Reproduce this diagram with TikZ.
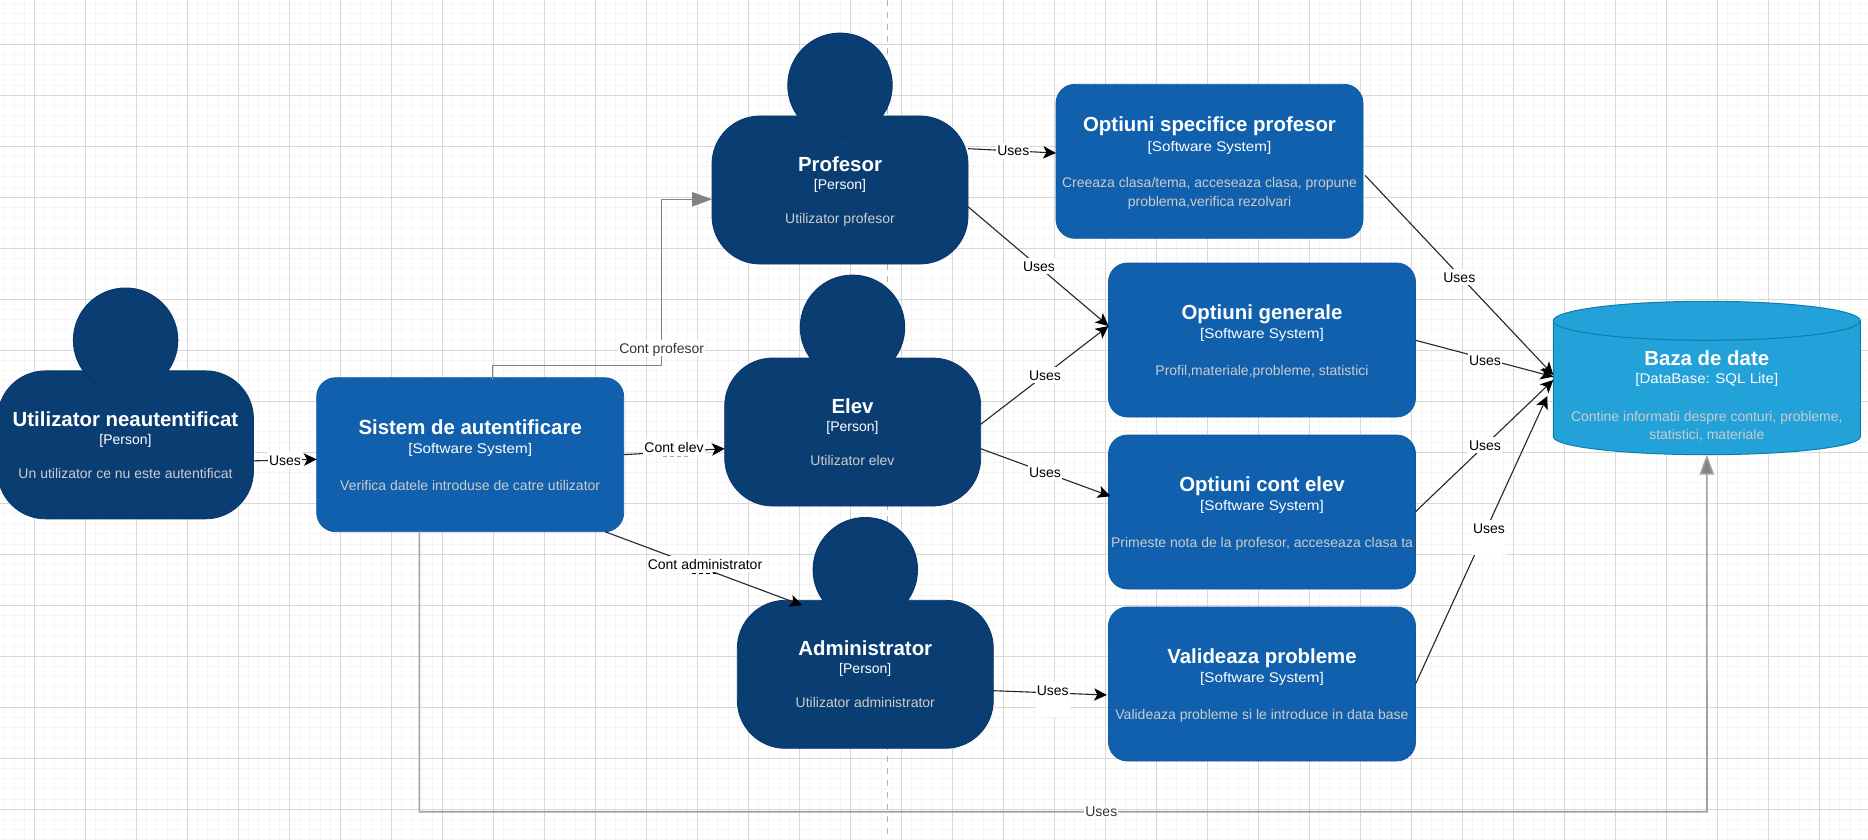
\documentclass[tikz,border=0pt]{standalone}
\usepackage{fontspec}
\setmainfont{Liberation Sans}
\newfontfamily\widerfont[FakeStretch=1.09]{Liberation Sans}
\newfontfamily\widefont[FakeStretch=1.075]{Liberation Sans}
\usetikzlibrary{arrows.meta,calc}
\definecolor{personfill}{HTML}{0A3E73}
\definecolor{personline}{HTML}{08376A}
\definecolor{boxfill}{HTML}{1060AD}
\definecolor{boxline}{HTML}{0E5AA3}
\definecolor{dbfill}{HTML}{23A2D9}
\definecolor{dbline}{HTML}{0E7DAD}
\definecolor{gridmajor}{HTML}{D8D8D8}
\definecolor{gridminor}{HTML}{F5F5F5}
\definecolor{grayline}{HTML}{828282}
\definecolor{desccol}{HTML}{CCCCCC}
\tikzset{
  body/.style={rectangle,rounded corners=24pt,fill=personfill,draw=personline,line width=.4pt,
    minimum width=128pt,minimum height=74pt,inner sep=0pt,outer sep=0pt},
  head/.style={circle,fill=personfill,draw=personline,line width=.5pt,
    minimum size=104.4*.5pt,inner sep=0pt,outer sep=0pt},
  sysbox/.style={rectangle,rounded corners=9.5pt,fill=boxfill,draw=boxline,line width=.4pt,
    minimum width=153.5pt,minimum height=77pt,inner sep=0pt,outer sep=0pt},
  dbarea/.style={rectangle,minimum width=153.5pt,minimum height=76.7pt,inner sep=0pt,outer sep=0pt},
  dbshape/.style={fill=dbfill,draw=dbline,line width=.5pt},
  ttl/.style={anchor=base,inner sep=0pt,text=white,font=\fontsize{10.2}{12}\selectfont\bfseries},
  kind/.style={anchor=base,inner sep=0pt,text=white,font=\fontsize{7}{9}\selectfont},
  kindsys/.style={kind,font=\widerfont\fontsize{7}{9}\selectfont},
  kinddb/.style={kind,font=\widefont\fontsize{7}{9}\selectfont},
  desc/.style={anchor=base,inner sep=0pt,text=desccol,font=\fontsize{7}{9}\selectfont},
  lbl/.style={fill=white,text=black,inner xsep=.5pt,inner ysep=1.5pt,text height=5.1pt,text depth=0pt,
    font=\fontsize{7}{9}\selectfont},
  lblgray/.style={lbl,text=black!80},
  uses/.style={draw=black!85,line width=.55pt,-{Stealth[length=6.4pt,width=6.2pt,inset=1.6pt,color=black]}},
  usesgray/.style={draw=grayline,line width=.55pt,-{Triangle[length=10pt,width=7.2pt,fill=grayline]}},
}
\begin{document}
\begin{tikzpicture}[x=.5pt,y=-.5pt]
\clip (0,0) rectangle (1868,840);
\fill[white] (0,0) rectangle (1868,840);
% grid
\foreach \i in {0,...,183} \draw[gridminor,line width=.5pt] ({3.9+\i*10.2},0) -- ({3.9+\i*10.2},840);
\foreach \i in {0,...,82} \draw[gridminor,line width=.5pt] (0,{3.5+\i*10.2}) -- (1868,{3.5+\i*10.2});
\foreach \i in {0,...,36} \draw[gridmajor,line width=.5pt] ({34.5+\i*51},0) -- ({34.5+\i*51},840);
\foreach \i in {0,...,15} \draw[gridmajor,line width=.5pt] (0,{44.3+\i*51}) -- (1868,{44.3+\i*51});
% page break line
\draw[black!30,line width=.5pt,dash pattern=on 3pt off 3pt] (887.7,0) -- (887.7,840);

% persons
\node (uneaut) [body] at (125.5,444.85) {};
\node (uneauthead) [head] at (125.6,340.2) {};
\node (prof) [body] at (840,190) {};
\node (profhead) [head] at (840,85.3) {};
\node (elev) [body] at (852.7,432) {};
\node (elevhead) [head] at (852.5,327.3) {};
\node (admin) [body] at (865.3,674.3) {};
\node (adminhead) [head] at (865.3,569.7) {};

% software systems
\node (sist) [sysbox] at (470.2,454.7) {};
\node (spec) [sysbox] at (1209.5,161.3) {};
\node (gen) [sysbox] at (1262,340) {};
\node (cont) [sysbox] at (1262,512) {};
\node (valid) [sysbox] at (1262,684) {};

% database
\node (db) [dbarea] at (1706.8,378) {};
\draw[dbshape] (1553.3,320.8) arc[start angle=180,end angle=0,x radius=76.75pt,y radius=9.75pt]
  -- (1860.3,436.7) arc[start angle=0,end angle=-180,x radius=76.75pt,y radius=9pt] -- cycle;
\draw[dbline,line width=.5pt] (1553.3,320.8) arc[start angle=180,end angle=360,x radius=76.75pt,y radius=9.75pt];

% texts
\node (t1) [ttl] at (125.5,426.3) {Utilizator neautentificat};
\node (t2) [kind] at (125.5,444.3) {[Person]};
\node (t3) [desc] at (125.5,478.3) {Un utilizator ce nu este autentificat};
\node (t4) [ttl] at (840,171.3) {Profesor};
\node (t5) [kind] at (840,189.3) {[Person]};
\node (t6) [desc] at (840,223.3) {Utilizator profesor};
\node (t7) [ttl] at (852.5,413.3) {Elev};
\node (t8) [kind] at (852.5,431.3) {[Person]};
\node (t9) [desc] at (852.5,465.3) {Utilizator elev};
\node (t10) [ttl] at (865.3,655.6) {Administrator};
\node (t11) [kind] at (865.3,673.6) {[Person]};
\node (t12) [desc] at (865.3,707.6) {Utilizator administrator};
\node (t13) [ttl] at (470.2,434) {Sistem de autentificare};
\node (t14) [kindsys] at (470.2,453) {[Software System]};
\node (t15) [desc] at (470.2,490.3) {Verifica datele introduse de catre utilizator};
\node (t16) [ttl] at (1209.5,131.3) {Optiuni specifice profesor};
\node (t17) [kindsys] at (1209.5,151) {[Software System]};
\node (t18) [desc] at (1209.5,187.3) {Creeaza clasa/tema, acceseaza clasa, propune};
\node (t19) [desc] at (1209.5,206.3) {problema,verifica rezolvari};
\node (t20) [ttl] at (1262,319) {Optiuni generale};
\node (t21) [kindsys] at (1262,338.3) {[Software System]};
\node (t22) [desc] at (1262,375) {Profil,materiale,probleme, statistici};
\node (t23) [ttl] at (1262,491) {Optiuni cont elev};
\node (t24) [kindsys] at (1262,510) {[Software System]};
\node (t25) [desc] at (1262,547.3) {Primeste nota de la profesor, acceseaza clasa ta};
\node (t26) [ttl] at (1262,663) {Valideaza probleme};
\node (t27) [kindsys] at (1262,682.7) {[Software System]};
\node (t28) [desc] at (1262,719) {Valideaza probleme si le introduce in data base};
\node (t29) [ttl] at (1706.8,365) {Baza de date};
\node (t30) [kinddb] at (1706.8,383.7) {[DataBase: SQL Lite]};
\node (t31) [desc] at (1706.8,421) {Contine informatii despre conturi, probleme,};
\node (t32) [desc] at (1706.8,439) {statistici, materiale};

% connectors
\coordinate (cpbend) at (661.5,365.3);
\coordinate (dbbend) at (1707,811.7);
\draw[uses] ($(uneaut.east)+(0,16)$) -- ($(sist.west)+(0,4.6)$);
\draw[usesgray] ($(sist.north)+(22.1,2)$) |- (cpbend) |- ($(prof.west)+(0,9.3)$);
\draw[uses] ($(sist.east)+(0,0)$) -- ($(elev.west)+(0,16.7)$);
\draw[uses] ($(sist.south east)+(-18.7,0)$) -- ($(admin.north west)+(65,5)$);
\draw[uses] ($(prof.east)+(0,-41.3)$) -- ($(spec.west)+(0,-8.3)$);
\draw[uses] ($(prof.east)+(0,16.7)$) -- ($(gen.west)+(0,-14)$);
\draw[uses] ($(elev.east)+(0,-7.7)$) -- ($(gen.west)+(0,-14)$);
\draw[uses] ($(elev.east)+(0,16.7)$) -- ($(cont.west)+(2,-15.7)$);
\draw[uses] ($(admin.east)+(0,16.4)$) -- ($(valid.west)+(-1.6,11)$);
\draw[uses] ($(spec.east)+(2,14)$) -- ($(db.west)+(0,-3)$);
\draw[uses] ($(gen.east)+(0,0.3)$) -- ($(db.west)+(0,-1.3)$);
\draw[uses] ($(cont.east)+(0,-0.3)$) -- ($(db.west)+(0,2)$);
\draw[uses] ($(valid.east)+(0,0)$) -- ($(db.west)+(-6,18)$);
\draw[usesgray,draw=grayline!75,line width=.8pt] ($(sist.south)+(-50.9,0)$) |- (dbbend) -- (db.south);

% connector labels
\node (l1) [lbl] at (285,460) {Uses};
\node (l2) [lblgray] at (661.7,348.3) {Cont profesor};
\node (l3) [lbl] at (674,447.3) {Cont elev};
\node (l4) [lbl] at (705,564) {Cont administrator};
\node (l5) [lbl] at (1013.3,150.7) {Uses};
\node (l6) [lbl] at (1039,266) {Uses};
\node (l7) [lbl] at (1045,375) {Uses};
\node (l8) [lbl] at (1045,472) {Uses};
\node (l9) [lbl,anchor=north,text depth=9pt] at (1052.7,682) {Uses};
\node (l10) [lbl] at (1459.3,277) {Uses};
\node (l11) [lbl] at (1485,360) {Uses};
\node (l12) [lbl] at (1485,445) {Uses};
\node (l13) [lbl,anchor=north,text depth=9pt] at (1489,520) {Uses};
\node (l14) [lblgray,inner ysep=0pt] at (1101.3,811.7) {Uses};
% dashes left under two labels
\draw[black!35,line width=.5pt,dash pattern=on 2pt off 1.5pt] (662.7,456) -- (690.7,456);
\draw[black,line width=.5pt,dash pattern=on 2pt off 1.5pt] (691.7,573.3) -- (719,573.3);
\end{tikzpicture}
\end{document}
